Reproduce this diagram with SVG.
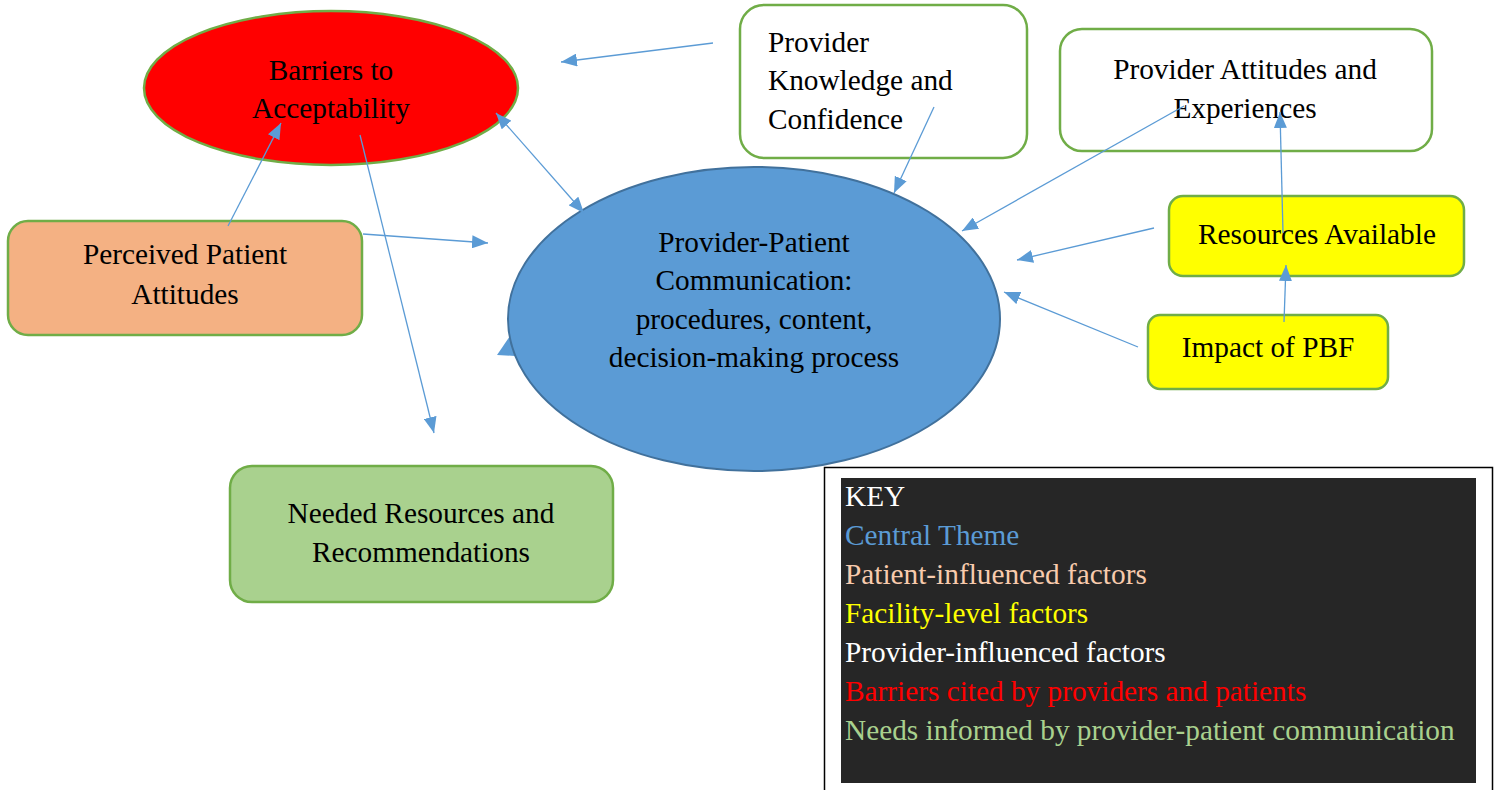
<svg xmlns="http://www.w3.org/2000/svg" width="1501" height="790" viewBox="0 0 1501 790">
  <style>
    text { font-family: "Liberation Serif", "Times New Roman", serif; font-size: 29.3px; fill: #000; }
    .mid { text-anchor: middle; }
    .box { stroke: #70AD47; stroke-width: 2.5; }
    .link { fill: none; stroke: #5B9BD5; stroke-width: 1.3; }
  </style>
  <defs>
    <marker id="head" markerUnits="userSpaceOnUse" markerWidth="17" markerHeight="13" refX="16" refY="6.5" orient="auto-start-reverse">
      <path d="M0,0 L16,6.5 L0,13 Z" fill="#5B9BD5"/>
    </marker>
  </defs>

  <rect width="1501" height="790" fill="#fff"/>

  <!-- partly hidden arrowhead at the left edge of the central theme -->
  <polygon points="497,355 510,336 515,356" fill="#5B9BD5"/>

  <!-- central theme -->
  <g id="central">
    <ellipse cx="754" cy="319" rx="246" ry="152" fill="#5B9BD5" stroke="#41719C" stroke-width="2"/>
    <text class="mid" x="754" y="252">Provider-Patient</text>
    <text class="mid" x="754" y="290">Communication:</text>
    <text class="mid" x="754" y="329">procedures, content,</text>
    <text class="mid" x="754" y="367">decision-making process</text>
  </g>

  <g id="barriers">
    <ellipse cx="331" cy="88" rx="187" ry="77" fill="#FF0000" class="box"/>
    <text class="mid" x="331" y="80">Barriers to</text>
    <text class="mid" x="331" y="118">Acceptability</text>
  </g>

  <g id="provider-knowledge">
    <rect x="740" y="5" width="287" height="153" rx="24" fill="#fff" class="box"/>
    <text x="768" y="52">Provider</text>
    <text x="768" y="90">Knowledge and</text>
    <text x="768" y="129">Confidence</text>
  </g>

  <g id="provider-attitudes">
    <rect x="1060" y="29" width="372" height="122" rx="22" fill="#fff" class="box"/>
    <text class="mid" x="1245" y="79">Provider Attitudes and</text>
    <text class="mid" x="1245" y="118">Experiences</text>
  </g>

  <g id="resources-available">
    <rect x="1169" y="196" width="295" height="80" rx="14" fill="#FFFF00" class="box"/>
    <text class="mid" x="1317" y="244">Resources Available</text>
  </g>

  <g id="impact-pbf">
    <rect x="1148" y="315" width="240" height="74" rx="12" fill="#FFFF00" class="box"/>
    <text class="mid" x="1268" y="357">Impact of PBF</text>
  </g>

  <g id="patient-attitudes">
    <rect x="8" y="221" width="354" height="114" rx="20" fill="#F4B183" class="box"/>
    <text class="mid" x="185" y="264">Perceived Patient</text>
    <text class="mid" x="185" y="304">Attitudes</text>
  </g>

  <g id="needed-resources">
    <rect x="230" y="466" width="383" height="136" rx="22" fill="#A9D18E" class="box"/>
    <text class="mid" x="421" y="523">Needed Resources and</text>
    <text class="mid" x="421" y="562">Recommendations</text>
  </g>

  <!-- connectors -->
  <g id="connectors">
    <line class="link" x1="713" y1="43" x2="561" y2="62" marker-end="url(#head)"/>
    <line class="link" x1="496" y1="113" x2="584" y2="213" marker-start="url(#head)" marker-end="url(#head)"/>
    <line class="link" x1="228" y1="226" x2="281" y2="123" marker-end="url(#head)"/>
    <line class="link" x1="360" y1="135" x2="434" y2="433" marker-end="url(#head)"/>
    <line class="link" x1="363" y1="234" x2="488" y2="243" marker-end="url(#head)"/>
    <line class="link" x1="934" y1="107" x2="894" y2="193" marker-end="url(#head)"/>
    <line class="link" x1="1184" y1="106" x2="962" y2="231" marker-end="url(#head)"/>
    <line class="link" x1="1154" y1="228" x2="1017" y2="260" marker-end="url(#head)"/>
    <line class="link" x1="1138" y1="347" x2="1004" y2="292" marker-end="url(#head)"/>
    <line class="link" x1="1284" y1="322" x2="1286" y2="265" marker-end="url(#head)"/>
    <line class="link" x1="1283" y1="233" x2="1280" y2="112" marker-end="url(#head)"/>
  </g>

  <!-- key -->
  <g id="key">
    <rect x="824.5" y="467.5" width="668" height="330" fill="#fff" stroke="#000" stroke-width="1.5"/>
    <rect x="841" y="478" width="635" height="305" fill="#262626"/>
    <text x="845" y="506" style="fill:#FFFFFF">KEY</text>
    <text x="845" y="545" style="fill:#5B9BD5">Central Theme</text>
    <text x="845" y="584" style="fill:#F8CBAD">Patient-influenced factors</text>
    <text x="845" y="623" style="fill:#FFFF00">Facility-level factors</text>
    <text x="845" y="662" style="fill:#FFFFFF">Provider-influenced factors</text>
    <text x="845" y="701" style="fill:#FF0000">Barriers cited by providers and patients</text>
    <text x="845" y="740" style="fill:#A9D18E">Needs informed by provider-patient communication</text>
  </g>
</svg>
